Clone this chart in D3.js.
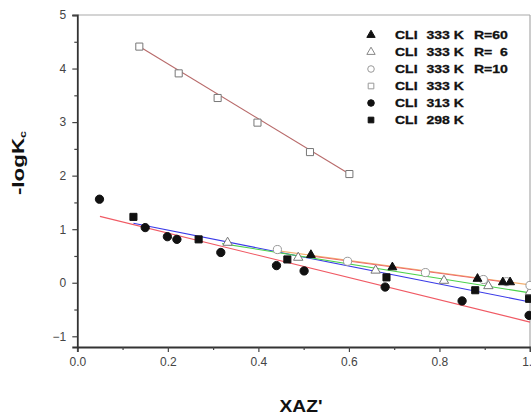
<!DOCTYPE html>
<html>
<head>
<meta charset="utf-8">
<script src="https://cdn.jsdelivr.net/npm/d3@7"></script>
<style>
body { margin: 0; background: #fff; }
svg { display: block; font-family: Arial, "Liberation Sans", sans-serif; }
</style>
</head>
<body>
<div id="main"></div>
<script>
const ctx = {
    w: 531,
    h: 415,
    left: 77.3,
    right: 530,
    top: 15,
    bottom: 347
};

// axis ticks
const xTicks = [0, 0.2, 0.4, 0.6, 0.8, 1.0];
const xMinorTicks = [0.1, 0.3, 0.5, 0.7, 0.9];
const yTicks = [-1, 0, 1, 2, 3, 4, 5];
const yMinorTicks = [-0.5, 0.5, 1.5, 2.5, 3.5, 4.5];

// CLI 333 K R=60 (filled triangles)
const r60X = [0.516, 0.696, 0.884, 0.940, 0.956];
const r60Y = [0.52, 0.29, 0.075, 0.01, 0.01];
const r60Fit = [[0.516, 0.50], [0.956, 0.0]];

// CLI 333 K R=6 (open triangles)
const r6X = [0.332, 0.488, 0.659, 0.810, 0.908, 1.0];
const r6Y = [0.75, 0.47, 0.23, 0.04, -0.06, -0.17];
const r6Fit = [[0.32, 0.73], [1.0, -0.19]];

// CLI 333 K R=10 (open circles)
const r10X = [0.442, 0.597, 0.769, 0.897, 0.948, 1.0];
const r10Y = [0.62, 0.40, 0.19, 0.06, 0.02, -0.05];
const r10Fit = [[0.44, 0.60], [1.0, -0.04]];

// CLI 333 K (open squares)
const k333X = [0.137, 0.224, 0.310, 0.398, 0.514, 0.601];
const k333Y = [4.41, 3.91, 3.45, 2.99, 2.44, 2.03];
const k333Fit = [[0.137, 4.41], [0.601, 2.03]];

// CLI 313 K (filled circles)
const k313X = [0.049, 0.150, 0.199, 0.220, 0.317, 0.440, 0.501, 0.680, 0.850, 0.998];
const k313Y = [1.56, 1.03, 0.86, 0.81, 0.565, 0.32, 0.22, -0.08, -0.34, -0.61];
const k313Fit = [[0.05, 1.24], [1.0, -0.735]];

// CLI 298 K (filled squares)
const k298X = [0.124, 0.268, 0.464, 0.683, 0.879, 0.998];
const k298Y = [1.23, 0.81, 0.435, 0.10, -0.14, -0.30];
const k298Fit = [[0.124, 1.11], [1.0, -0.36]];

const legendLabels = [
    ["CLI", "333 K", "R=60"],
    ["CLI", "333 K", "R=  6"],
    ["CLI", "333 K", "R=10"],
    ["CLI", "333 K", ""],
    ["CLI", "313 K", ""],
    ["CLI", "298 K", ""]
];

//==============================================================================================
function createViz() {
    const svg = d3.select("#main").append("svg")
        .attr("width", ctx.w)
        .attr("height", ctx.h);

    const x = d3.scaleLinear().domain([0, 1.0]).range([ctx.left, ctx.right]);
    const y = d3.scaleLinear().domain([-1.2, 5]).range([ctx.bottom, ctx.top]);

    // frame (top / right)
    svg.append("line").attr("x1", ctx.left).attr("x2", ctx.right).attr("y1", ctx.top).attr("y2", ctx.top)
        .attr("stroke", "#aaa").attr("stroke-width", 1.2);
    svg.append("line").attr("x1", ctx.right).attr("x2", ctx.right).attr("y1", ctx.top).attr("y2", ctx.bottom)
        .attr("stroke", "#aaa").attr("stroke-width", 1.2);

    // axes
    svg.append("g").attr("transform", `translate(0,${ctx.bottom})`)
        .call(d3.axisBottom(x).tickValues(xTicks).tickFormat(d3.format(".1f")).tickSizeOuter(0).tickSize(5).tickPadding(5));
    svg.append("g").attr("transform", `translate(0,${ctx.bottom})`)
        .call(d3.axisBottom(x).tickValues(xMinorTicks).tickFormat("").tickSizeOuter(0).tickSize(3))
        .select(".domain").remove();

    svg.append("g").attr("transform", `translate(${ctx.left},0)`)
        .call(d3.axisLeft(y).tickValues(yTicks).tickFormat(d3.format("d")).tickSizeOuter(0).tickSize(5).tickPadding(6));
    svg.append("g").attr("transform", `translate(${ctx.left},0)`)
        .call(d3.axisLeft(y).tickValues(yMinorTicks).tickFormat("").tickSizeOuter(0).tickSize(3))
        .select(".domain").remove();

    svg.selectAll(".domain").attr("stroke", "#333").attr("stroke-width", 1.8);
    svg.selectAll(".tick line").attr("stroke", "#444").attr("stroke-width", 1.2);
    svg.selectAll(".tick text").attr("font-size", 12).attr("fill", "#444")
        .attr("font-family", "Arial, 'Liberation Sans', sans-serif");

    // fit lines
    const line = d3.line().x(d => x(d[0])).y(d => y(d[1]));
    const fits = [
        { pts: k333Fit, color: "#b86a6a" },
        { pts: k313Fit, color: "#f05a64" },
        { pts: k298Fit, color: "#3a3ae8" },
        { pts: r6Fit, color: "#4cd24c" },
        { pts: r10Fit, color: "#f4b070" },
        { pts: r60Fit, color: "#ec6a6a" }
    ];
    svg.append("g").selectAll("path").data(fits).enter().append("path")
        .attr("d", d => line(d.pts))
        .attr("fill", "none")
        .attr("stroke", d => d.color)
        .attr("stroke-width", 1.1);

    // markers
    const series = [
        { xs: k333X, ys: k333Y, type: d3.symbolSquare, size: 50, fill: "#fff", stroke: "#777" },
        { xs: r6X, ys: r6Y, type: d3.symbolTriangle, size: 38, fill: "#fff", stroke: "#777" },
        { xs: r10X, ys: r10Y, type: d3.symbolCircle, size: 52, fill: "#fff", stroke: "#999" },
        { xs: r60X, ys: r60Y, type: d3.symbolTriangle, size: 34, fill: "#111", stroke: "#111" },
        { xs: k298X, ys: k298Y, type: d3.symbolSquare, size: 50, fill: "#111", stroke: "#111" },
        { xs: k313X, ys: k313Y, type: d3.symbolCircle, size: 54, fill: "#111", stroke: "#111" }
    ];
    series.forEach(s => {
        svg.append("g").selectAll("path")
            .data(s.xs.map((v, i) => [v, s.ys[i]]))
            .enter().append("path")
            .attr("transform", d => `translate(${x(d[0])},${y(d[1])})`)
            .attr("d", d3.symbol().type(s.type).size(s.size))
            .attr("fill", s.fill)
            .attr("stroke", s.stroke)
            .attr("stroke-width", 1);
    });

    // legend
    const legendSyms = [
        { type: d3.symbolTriangle, size: 30, fill: "#111", stroke: "#111" },
        { type: d3.symbolTriangle, size: 30, fill: "#fff", stroke: "#888" },
        { type: d3.symbolCircle, size: 34, fill: "#fff", stroke: "#999" },
        { type: d3.symbolSquare, size: 32, fill: "#fff", stroke: "#999" },
        { type: d3.symbolCircle, size: 34, fill: "#111", stroke: "#111" },
        { type: d3.symbolSquare, size: 32, fill: "#111", stroke: "#111" }
    ];
    const legend = svg.append("g").selectAll("g")
        .data(legendLabels).enter().append("g")
        .attr("transform", (d, i) => `translate(0,${35 + i * 17})`);
    legend.append("path")
        .attr("transform", "translate(371,0)")
        .attr("d", (d, i) => d3.symbol().type(legendSyms[i].type).size(legendSyms[i].size)())
        .attr("fill", (d, i) => legendSyms[i].fill)
        .attr("stroke", (d, i) => legendSyms[i].stroke);
    const cols = [395, 426.5, 474];
    cols.forEach((cx, c) => {
        legend.append("text")
            .attr("transform", `translate(${cx},4.2) scale(1.22,1)`)
            .attr("font-size", 11.5)
            .attr("font-weight", "bold")
            .attr("fill", "#111")
            .attr("stroke", "#111")
            .attr("stroke-width", 0.3)
            .style("white-space", "pre")
            .text(d => d[c]);
    });

    // axis titles
    svg.append("text")
        .attr("transform", "translate(24,163) rotate(-90) scale(1.4,1)")
        .attr("text-anchor", "middle")
        .attr("font-size", 16)
        .attr("font-weight", "bold")
        .attr("fill", "#111")
        .text("-logK")
        .append("tspan")
        .attr("font-size", 9)
        .attr("dy", 2)
        .text("c");

    svg.append("text")
        .attr("transform", "translate(301,412) scale(1.2,1)")
        .attr("text-anchor", "middle")
        .attr("font-size", 16)
        .attr("font-weight", "bold")
        .attr("fill", "#111")
        .text("XAZ'");
}

createViz();
</script>
</body>
</html>
